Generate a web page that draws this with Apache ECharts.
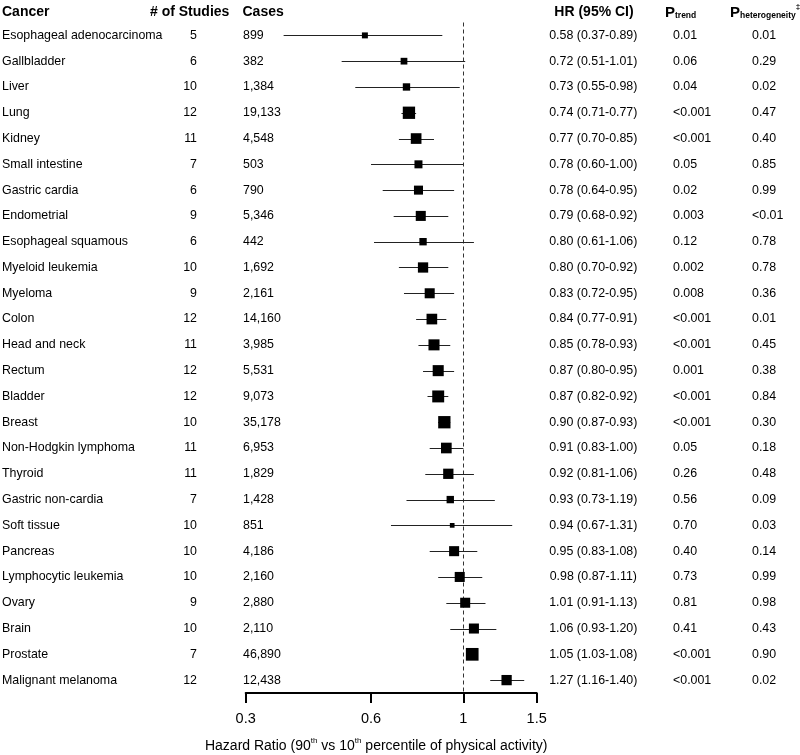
<!DOCTYPE html>
<html><head><meta charset="utf-8">
<script src="https://cdn.jsdelivr.net/npm/echarts@6/dist/echarts.min.js"></script>
<style>html,body{margin:0;padding:0;background:#fff}#c{width:800px;height:755px}</style>
</head><body><div id="c"></div>
<script>
const cancers = ['Esophageal adenocarcinoma','Gallbladder','Liver','Lung','Kidney','Small intestine','Gastric cardia','Endometrial','Esophageal squamous','Myeloid leukemia','Myeloma','Colon','Head and neck','Rectum','Bladder','Breast','Non-Hodgkin lymphoma','Thyroid','Gastric non-cardia','Soft tissue','Pancreas','Lymphocytic leukemia','Ovary','Brain','Prostate','Malignant melanoma'];
const studies = [5,6,10,12,11,7,6,9,6,10,9,12,11,12,12,10,11,11,7,10,10,10,9,10,7,12];
const cases = ['899','382','1,384','19,133','4,548','503','790','5,346','442','1,692','2,161','14,160','3,985','5,531','9,073','35,178','6,953','1,829','1,428','851','4,186','2,160','2,880','2,110','46,890','12,438'];
const hr    = [0.58,0.72,0.73,0.74,0.77,0.78,0.78,0.79,0.80,0.80,0.83,0.84,0.85,0.87,0.87,0.90,0.91,0.92,0.93,0.94,0.95,0.98,1.01,1.06,1.05,1.27];
const lower = [0.37,0.51,0.55,0.71,0.70,0.60,0.64,0.68,0.61,0.70,0.72,0.77,0.78,0.80,0.82,0.87,0.83,0.81,0.73,0.67,0.83,0.87,0.91,0.93,1.03,1.16];
const upper = [0.89,1.01,0.98,0.77,0.85,1.00,0.95,0.92,1.06,0.92,0.95,0.91,0.93,0.95,0.92,0.93,1.00,1.06,1.19,1.31,1.08,1.11,1.13,1.20,1.08,1.40];
const pTrend = ['0.01','0.06','0.04','<0.001','<0.001','0.05','0.02','0.003','0.12','0.002','0.008','<0.001','<0.001','0.001','<0.001','<0.001','0.05','0.26','0.56','0.70','0.40','0.73','0.81','0.41','<0.001','<0.001'];
const pHet = ['0.01','0.29','0.02','0.47','0.40','0.85','0.99','<0.01','0.78','0.78','0.36','0.01','0.45','0.38','0.84','0.30','0.18','0.48','0.09','0.03','0.14','0.99','0.98','0.43','0.90','0.02'];
// relative study weight (largest = 1)
const weight = [0.47,0.53,0.58,0.97,0.84,0.63,0.71,0.79,0.58,0.81,0.79,0.84,0.87,0.87,0.94,0.97,0.84,0.81,0.58,0.37,0.79,0.79,0.79,0.79,1.00,0.81];
const xTicks = [0.3, 0.6, 1, 1.5];

const FONT = 'Liberation Sans, Arial, sans-serif';
const BODY = 12.4;
const MAX_BOX = 12.7;

const chart = echarts.init(document.getElementById('c'), null, {renderer: 'canvas'});
const gridLeft = 245.7, gridRight = 800 - 536.7;

function colAxis(position, offset, align, arr) {
  return {
    type: 'category', inverse: true, data: cancers, gridIndex: 0,
    position: position, offset: offset,
    axisLine: {show: false}, axisTick: {show: false}, splitLine: {show: false},
    axisLabel: {show: true, interval: 0, margin: 0, align: align, color: '#000',
      fontFamily: FONT, fontSize: BODY,
      formatter: (v, i) => String(arr[i])}
  };
}

const seriesData = hr.map((v, i) => [v, i, lower[i], upper[i], weight[i]]);
const HY = 12;

const option = {
  backgroundColor: '#fff',
  animation: false,
  grid: {left: gridLeft, right: gridRight, top: 22.5, bottom: 62, containLabel: false, outerBoundsMode: 'none'},
  xAxis: {
    type: 'log', logBase: 10, min: 0.3, max: 1.5,
    axisLine: {show: true, lineStyle: {color: '#000', width: 2}},
    axisTick: {show: true, customValues: xTicks, length: 10, inside: false, lineStyle: {color: '#000', width: 2}},
    axisLabel: {show: true, customValues: xTicks, margin: 18, color: '#000', fontFamily: FONT, fontSize: 14.5,
      formatter: v => String(Math.round(v * 100) / 100)},
    splitLine: {show: false},
    minorTick: {show: false},
    name: '{n|Hazard Ratio (90}{s|th}{n| vs 10}{s|th}{n| percentile of physical activity)}',
    nameLocation: 'middle', nameGap: 44,
    nameTextStyle: {padding: [0, 30, 0, 0],
      rich: {
        n: {fontFamily: FONT, fontSize: 14, color: '#000', verticalAlign: 'bottom', lineHeight: 16},
        s: {fontFamily: FONT, fontSize: 8, color: '#000', verticalAlign: 'top', lineHeight: 16}
      }}
  },
  yAxis: [
    colAxis('left', gridLeft - 2, 'left', cancers),
    colAxis('left', gridLeft - 197, 'right', studies),
    colAxis('left', gridLeft - 243, 'left', cases),
    colAxis('right', 593.3 - 536.7, 'center', hr.map((v, i) => v.toFixed(2) + ' (' + lower[i].toFixed(2) + '-' + upper[i].toFixed(2) + ')')),
    colAxis('right', 673 - 536.7, 'left', pTrend),
    colAxis('right', 752 - 536.7, 'left', pHet)
  ],
  series: [{
    type: 'custom',
    xAxisIndex: 0, yAxisIndex: 0,
    data: seriesData,
    encode: {x: 0, y: 1},
    clip: false,
    renderItem: function (params, api) {
      const yi = api.value(1);
      const c = api.coord([api.value(0), yi]);
      const l = api.coord([api.value(2), yi]);
      const u = api.coord([api.value(3), yi]);
      const y = Math.round(c[1]) + 0.5;
      const s = api.value(4) * MAX_BOX;
      return {type: 'group', children: [
        {type: 'line', shape: {x1: l[0], y1: y, x2: u[0], y2: y}, style: {stroke: '#222', lineWidth: 1}},
        {type: 'rect', shape: {x: c[0] - s / 2, y: c[1] - s / 2, width: s, height: s}, style: {fill: '#000'}}
      ]};
    },
    markLine: {
      silent: true, symbol: 'none', z: 1,
      label: {show: false},
      lineStyle: {color: '#333', width: 1, type: [4, 3]},
      data: [{xAxis: 1}]
    }
  }],
  graphic: [
    {type: 'text', x: 2, y: HY, style: {text: 'Cancer', font: 'bold 14px ' + FONT, fill: '#000', align: 'left', verticalAlign: 'middle'}},
    {type: 'text', x: 150, y: HY, style: {text: '# of Studies', font: 'bold 14px ' + FONT, fill: '#000', align: 'left', verticalAlign: 'middle'}},
    {type: 'text', x: 242.5, y: HY, style: {text: 'Cases', font: 'bold 14px ' + FONT, fill: '#000', align: 'left', verticalAlign: 'middle'}},
    {type: 'text', x: 594, y: HY, style: {text: 'HR (95% CI)', font: 'bold 14px ' + FONT, fill: '#000', align: 'center', verticalAlign: 'middle'}},
    {type: 'text', x: 665, y: HY - 0.5, style: {text: '{p|P}{s|trend}', align: 'left', verticalAlign: 'middle',
      rich: {p: {fontFamily: FONT, fontWeight: 'bold', fontSize: 15, fill: '#000', verticalAlign: 'bottom', lineHeight: 17},
             s: {fontFamily: FONT, fontWeight: 'bold', fontSize: 8.5, fill: '#000', verticalAlign: 'bottom', lineHeight: 15}}}},
    {type: 'text', x: 730, y: HY - 0.5, style: {text: '{p|P}{s|heterogeneity}{t|‡}', align: 'left', verticalAlign: 'middle',
      rich: {p: {fontFamily: FONT, fontWeight: 'bold', fontSize: 15, fill: '#000', verticalAlign: 'bottom', lineHeight: 17},
             s: {fontFamily: FONT, fontWeight: 'bold', fontSize: 8.5, fill: '#000', verticalAlign: 'bottom', lineHeight: 15},
             t: {fontFamily: FONT, fontWeight: 'bold', fontSize: 8, fill: '#000', verticalAlign: 'top', lineHeight: 17}}}}
  ]
};
chart.setOption(option);
</script>
</body></html>
